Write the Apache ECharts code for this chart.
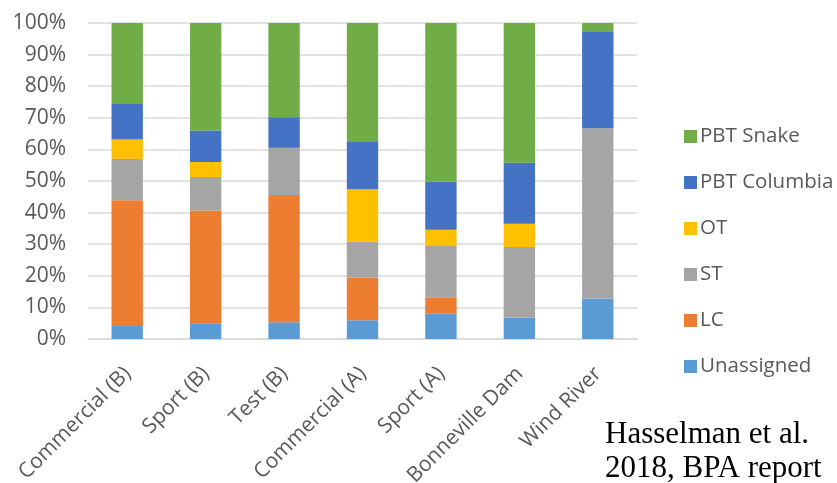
<!DOCTYPE html>
<html>
<head>
<meta charset="utf-8">
<script src="https://cdn.jsdelivr.net/npm/echarts@6/dist/echarts.min.js"></script>
<style>
  html, body { margin: 0; padding: 0; background: #ffffff; }
  #chart { width: 837px; height: 483px; }
</style>
</head>
<body>
<div id="chart"></div>
<script>
// Sample groups along the x axis
const categories = ['Commercial (B)', 'Sport (B)', 'Test (B)', 'Commercial (A)', 'Sport (A)', 'Bonneville Dam', 'Wind River'];

// Percent composition of each group, stacked bottom to top
const unassigned  = [4.1, 5.0, 5.3, 5.9, 8.0, 6.7, 12.8];
const lc          = [39.8, 35.7, 40.3, 13.6, 5.2, 0, 0];
const st          = [13.1, 10.6, 14.9, 11.3, 16.2, 22.4, 53.9];
const ot          = [6.1, 4.7, 0, 16.6, 5.2, 7.4, 0];
const pbtColumbia = [11.3, 10.0, 9.7, 15.2, 15.2, 19.3, 30.7];
const pbtSnake    = [25.6, 34.0, 29.8, 37.4, 50.2, 44.2, 2.6];

const yTicks = { min: 0, max: 100, interval: 10 };

const textGray = '#595959';
const font = '"Open Sans", "Noto Sans", sans-serif';

const seriesDefs = [
  { name: 'Unassigned', data: unassigned, color: '#5B9BD5' },
  { name: 'LC', data: lc, color: '#ED7D31' },
  { name: 'ST', data: st, color: '#A5A5A5' },
  { name: 'OT', data: ot, color: '#FFC000' },
  { name: 'PBT Columbia', data: pbtColumbia, color: '#4472C4' },
  { name: 'PBT Snake', data: pbtSnake, color: '#70AD47' }
];

const chart = echarts.init(document.getElementById('chart'), null, { renderer: 'canvas' });

chart.setOption({
  animation: false,
  backgroundColor: '#ffffff',
  grid: { left: 88, right: 200, top: 23, bottom: 144, containLabel: false, outerBoundsMode: 'none' },
  legend: {
    orient: 'vertical',
    left: 679,
    top: 121,
    itemWidth: 13,
    itemHeight: 13,
    itemGap: 25,
    icon: 'rect',
    data: seriesDefs.map(s => s.name).reverse(),
    textStyle: { color: textGray, fontSize: 20.5, fontFamily: font, padding: [0, 0, 0, -2] }
  },
  xAxis: {
    type: 'category',
    data: categories,
    axisTick: { show: false },
    axisLine: { lineStyle: { color: '#D9D9D9', width: 1.5 } },
    axisLabel: {
      rotate: 45,
      align: 'right',
      verticalAlign: 'top',
      margin: 17,
      padding: [0, 10, 0, 0],
      color: textGray,
      fontSize: 21,
      fontFamily: font,
      interval: 0
    }
  },
  yAxis: {
    type: 'value',
    min: yTicks.min,
    max: yTicks.max,
    interval: yTicks.interval,
    axisLine: { show: false },
    axisTick: { show: false },
    splitLine: { lineStyle: { color: '#D9D9D9', width: 1.5 } },
    axisLabel: {
      formatter: '{value}%',
      margin: 22,
      color: textGray,
      fontSize: 21,
      fontFamily: font
    }
  },
  series: seriesDefs.map(s => ({
    name: s.name,
    type: 'bar',
    stack: 'total',
    barWidth: '40%',
    data: s.data,
    itemStyle: { color: s.color },
    emphasis: { disabled: true }
  })),
  graphic: [{
    type: 'text',
    left: 605,
    top: 418,
    style: {
      text: 'Hasselman et al.\n2018, BPA report',
      fill: '#000000',
      font: '31px "Liberation Serif", "DejaVu Serif", serif',
      lineHeight: 34
    }
  }]
});
</script>
</body>
</html>
